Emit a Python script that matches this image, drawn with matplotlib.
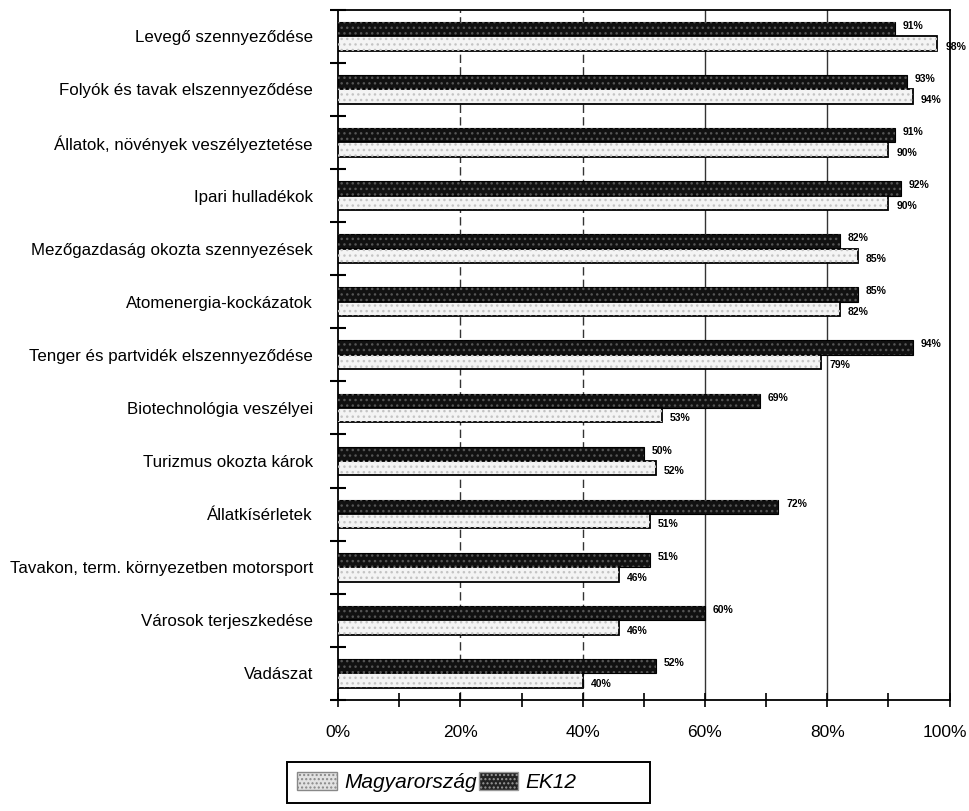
import matplotlib.pyplot as plt
import numpy as np
from matplotlib.patches import Patch, Rectangle
from matplotlib.transforms import ScaledTranslation

categories = [
    "Levegő szennyeződése",
    "Folyók és tavak elszennyeződése",
    "Állatok, növények veszélyeztetése",
    "Ipari hulladékok",
    "Mezőgazdaság okozta szennyezések",
    "Atomenergia-kockázatok",
    "Tenger és partvidék elszennyeződése",
    "Biotechnológia veszélyei",
    "Turizmus okozta károk",
    "Állatkísérletek",
    "Tavakon, term. környezetben motorsport",
    "Városok terjeszkedése",
    "Vadászat",
]
ek12 = [91, 93, 91, 92, 82, 85, 94, 69, 50, 72, 51, 60, 52]
magyar = [98, 94, 90, 90, 85, 82, 79, 53, 52, 51, 46, 46, 40]

plt.rcParams['font.family'] = ['Liberation Sans', 'DejaVu Sans']

fig = plt.figure(figsize=(9.7, 8.11), dpi=100)
ax = fig.add_axes([0.3485, 0.137, 0.6305, 0.851])

y = np.arange(len(categories))
h = 0.27

# EK12: near-black bars with a faint speckle, Magyarország: pale bars with black outline
ax.barh(y - h / 2, ek12, height=h, color='#111111', edgecolor='black', linewidth=0.8, zorder=3)
ax.barh(y - h / 2, ek12, height=h, color='none', edgecolor='#555555', hatch='...', linewidth=0, zorder=4)
ax.barh(y + h / 2, magyar, height=h, color='#f4f4f4', edgecolor='black', linewidth=1.3, zorder=3)
ax.barh(y + h / 2, magyar, height=h, color='none', edgecolor='#c4c4c4', hatch='...', linewidth=0, zorder=4)

for i in range(len(categories)):
    ax.text(ek12[i] + 1.3, y[i] - h / 2 - 0.06, f"{ek12[i]}%", fontsize=7.5,
            fontweight='bold', va='center', ha='left', zorder=5)
    ax.text(magyar[i] + 1.3, y[i] + h / 2 + 0.06, f"{magyar[i]}%", fontsize=7.5,
            fontweight='bold', va='center', ha='left', zorder=5)

ax.set_xlim(0, 100)
ax.set_ylim(len(categories) - 0.5, -0.5)

for gx in [20, 40]:
    ax.axvline(gx, color='#333333', linewidth=1.0, linestyle=(0, (6, 3)), zorder=1)
for gx in [60, 80]:
    ax.axvline(gx, color='#333333', linewidth=1.0, zorder=1)

ax.set_xticks(np.arange(0, 101, 20))
ax.set_xticklabels([f"{v}%" for v in range(0, 101, 20)], fontsize=12.5)
ax.set_xticks(np.arange(10, 100, 20), minor=True)
ax.tick_params(axis='x', which='both', direction='inout', length=10, width=1.2, pad=13)
# pull the last label in a little so it stays on the canvas
last = ax.get_xticklabels()[-1]
last.set_transform(last.get_transform() + ScaledTranslation(-5 / 100, 0, fig.dpi_scale_trans))

# ticks between the groups, labels at the group centres
ax.set_yticks(np.arange(-0.5, len(categories), 1.0))
ax.set_yticklabels([])
ax.set_yticks(y, minor=True)
ax.set_yticklabels(categories, minor=True, fontsize=12.2)
ax.tick_params(axis='y', which='major', direction='inout', length=12, width=1.5)
ax.tick_params(axis='y', which='minor', length=0, pad=18)

for s in ax.spines.values():
    s.set_linewidth(1.3)

handles = [Patch(facecolor='#e2e2e2', edgecolor='#888888', hatch='....'),
           Patch(facecolor='#222222', edgecolor='#999999', hatch='....')]
leg = fig.legend(handles, ['Magyarország', 'EK12'], loc='center left',
                 bbox_to_anchor=(297 / 970, 1 - 782 / 811), ncol=2, frameon=False,
                 handlelength=1.9, handleheight=1.0, columnspacing=0.1,
                 handletextpad=0.35, borderpad=0, borderaxespad=0,
                 prop={'style': 'italic', 'size': 15})
fig.add_artist(Rectangle((287 / 970, 1 - 803 / 811), 363 / 970, 41 / 811,
                         transform=fig.transFigure, fill=False,
                         edgecolor='black', linewidth=1.4))

fig.savefig("out.png", dpi=100)
